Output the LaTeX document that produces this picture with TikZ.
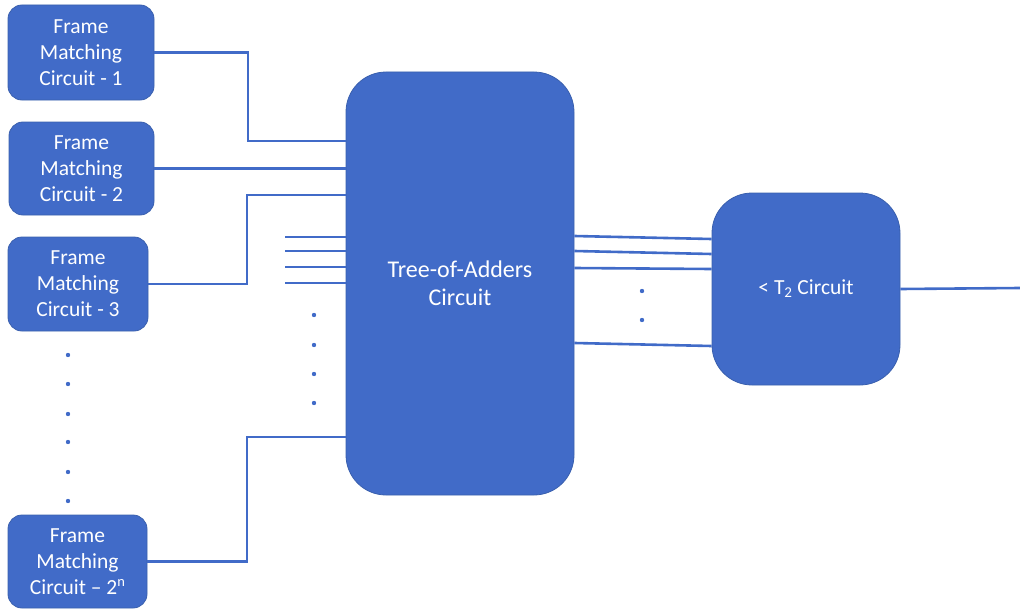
\documentclass[tikz,border=0pt]{standalone}
\usepackage{fontspec}
\setmainfont{Carlito}
\definecolor{blu}{HTML}{416BC8}
\definecolor{bord}{HTML}{3A60AE}
\begin{document}
\begin{tikzpicture}[x=1pt,y=-1pt,
  box/.style={draw=bord, line width=0.8pt, fill=blu, text=white, rounded corners=14pt,
    align=center, font=\fontsize{21.5}{26}\selectfont, inner sep=0pt},
  bigbox/.style={box, rounded corners=40pt},
  wire/.style={draw=blu, line width=2.6pt},
  dotm/.style={circle, fill=blu, inner sep=0pt, minimum size=4.4pt}]
\useasboundingbox (0,0) rectangle (1020,610);

% boxes
\node[box, minimum width=146pt, minimum height=95pt] (b1) at (81,52.5) {Frame\\Matching\\Circuit - 1};
\node[box, minimum width=145pt, minimum height=93pt] (b2) at (81.5,168.5) {Frame\\Matching\\Circuit - 2};
\node[box, minimum width=140pt, minimum height=94pt] (b3) at (78,284) {Frame\\Matching\\Circuit - 3};
\node[box, minimum width=139pt, minimum height=93pt] (b4) at (77.5,561.5) {Frame\\Matching\\Circuit -- 2\raisebox{0.38em}{\fontsize{14.5}{14.5}\selectfont n}};
\node[bigbox, minimum width=228pt, minimum height=423pt, font=\fontsize{24}{28}\selectfont] (big) at (460,283.5) {Tree-of-Adders\\Circuit};
\node[bigbox, minimum width=188pt, minimum height=192pt] (t2) at (806,289) {< T\textsubscript{2} Circuit};

% entry points on the big box
\coordinate (i1) at (big.west |- 0,141);
\coordinate (i2) at (big.west |- b2.east);
\coordinate (i3) at (big.west |- 0,195);
\coordinate (i4) at (big.west |- 0,437);
\coordinate (s1a) at (285,237); \coordinate (s1b) at (big.west |- s1a);
\coordinate (s2a) at (285,251); \coordinate (s2b) at (big.west |- s2a);
\coordinate (s3a) at (285,267); \coordinate (s3b) at (big.west |- s3a);
\coordinate (s4a) at (285,283); \coordinate (s4b) at (big.west |- s4a);

% left wires
\draw[wire] (b1.east) -- (248,52.5) |- (i1);
\draw[wire] (b2.east) -- (i2);
\draw[wire] (b3.east) -- (247,284) |- (i3);
\draw[wire] (b4.east) -- (247,561.5) |- (i4);
\foreach \k in {1,2,3,4} \draw[wire] (s\k a) -- (s\k b);

% right wires
\coordinate (o1) at (big.east |- 0,236); \coordinate (p1) at (t2.west |- 0,239);
\coordinate (o2) at (big.east |- 0,251); \coordinate (p2) at (t2.west |- 0,254);
\coordinate (o3) at (big.east |- 0,268); \coordinate (p3) at (t2.west |- 0,269);
\coordinate (o4) at (big.east |- 0,343); \coordinate (p4) at (t2.west |- 0,346);
\foreach \k in {1,2,3,4} \draw[wire] (o\k) -- (p\k);
\coordinate (out) at (1020,288);
\draw[wire] (t2.east) -- (out);

% dots
\foreach \y in {355,384,414,442,472,501} \node[dotm] at (68,\y) {};
\foreach \y in {315,345,374,403} \node[dotm] at (314,\y) {};
\foreach \y in {291,320} \node[dotm] at (642,\y) {};
\end{tikzpicture}
\end{document}
